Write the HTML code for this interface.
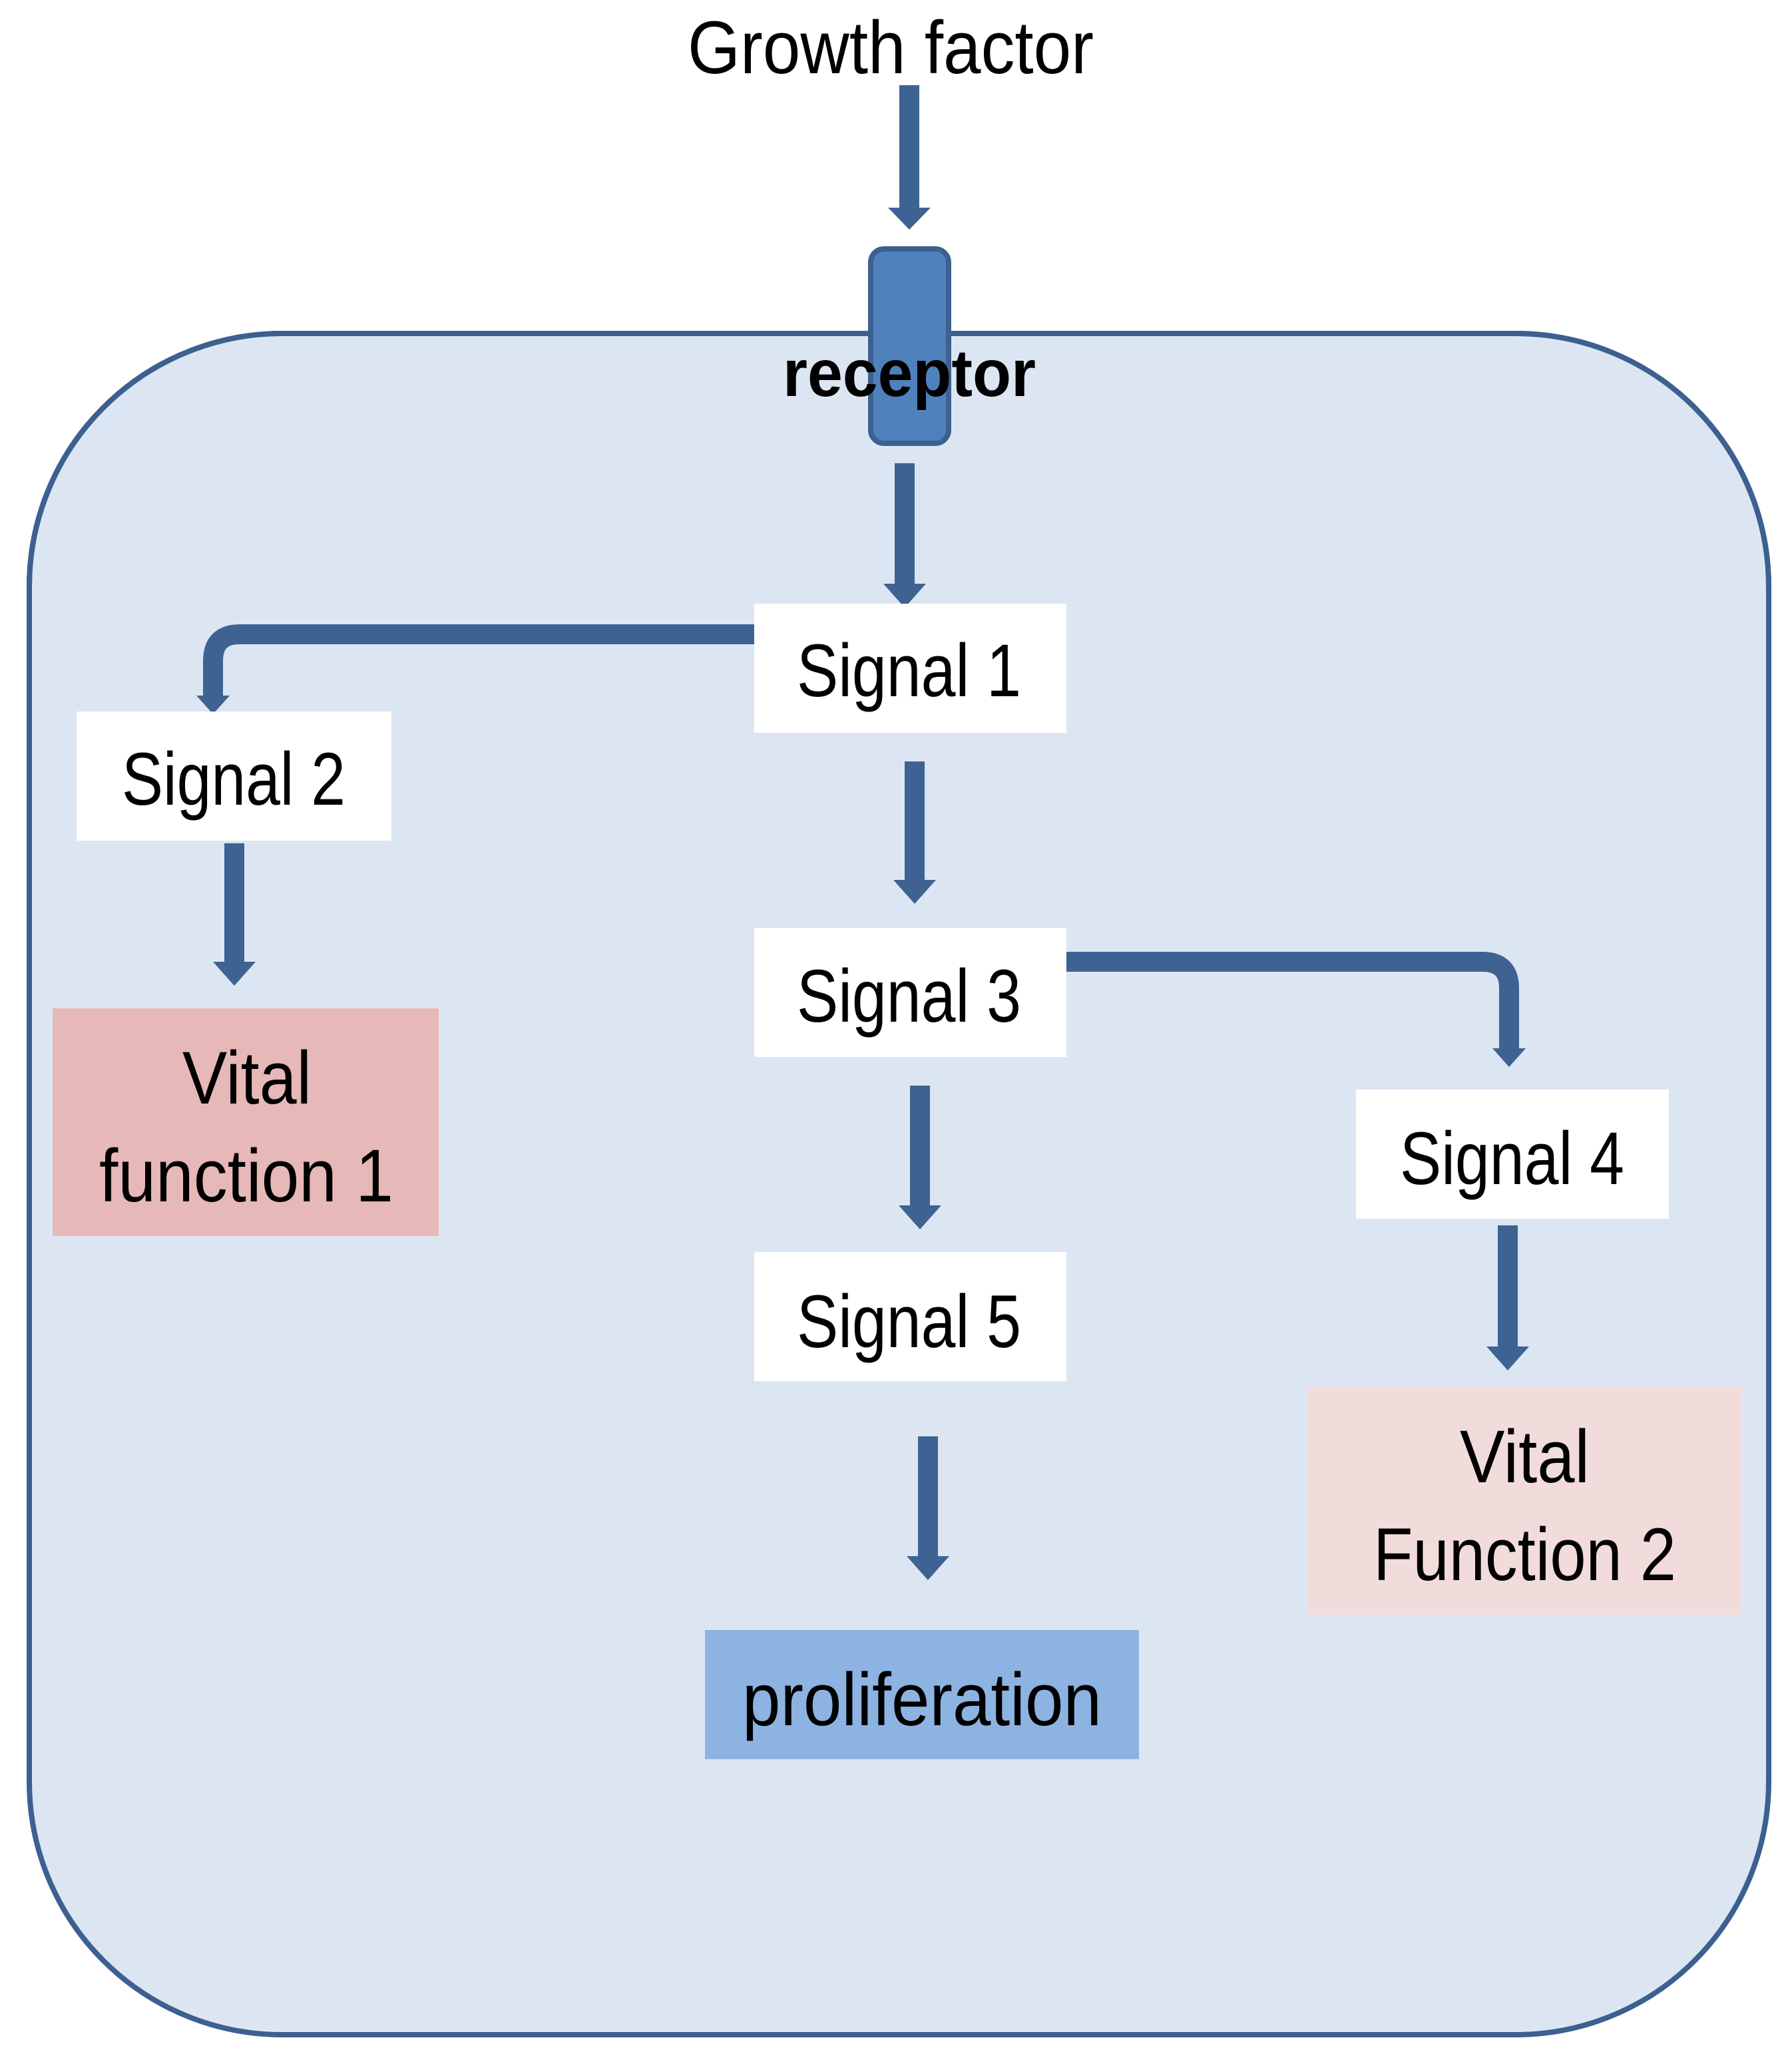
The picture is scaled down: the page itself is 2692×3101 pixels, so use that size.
<!DOCTYPE html>
<html><head><style>body{margin:0;background:#fff}svg{display:block}</style></head><body>
<svg width="2692" height="3101" viewBox="0 0 2692 3101" xmlns="http://www.w3.org/2000/svg" font-family="Liberation Sans, sans-serif">
<rect x="44" y="501" width="2613" height="2556" rx="380" fill="#dce6f2" stroke="#3c6090" stroke-width="8"/>
<rect x="0" y="0" width="2692" height="497" fill="#fff"/>
<path d="M44,881 A380,380 0 0 1 424,501 L2277,501 A380,380 0 0 1 2657,881" fill="none" stroke="#3c6090" stroke-width="8"/>
<g fill="#3e6393">
<rect x="1351" y="128" width="30" height="186"/><polygon points="1334,312 1398,312 1366,345"/>
<rect x="1344" y="696" width="30" height="183"/><polygon points="1327,877 1391,877 1359,913"/>
<rect x="1359" y="1144" width="30" height="180"/><polygon points="1342,1322 1406,1322 1374,1358"/>
<rect x="1367" y="1631" width="30" height="182"/><polygon points="1350,1811 1414,1811 1382,1847"/>
<rect x="1379" y="2158" width="30" height="182"/><polygon points="1362,2338 1426,2338 1394,2374"/>
<rect x="337" y="1267" width="30" height="180"/><polygon points="320,1445 384,1445 352,1481"/>
<rect x="2250" y="1841" width="30" height="184"/><polygon points="2233,2023 2297,2023 2265,2059"/>
<polygon points="295,1045 345,1045 320,1073"/>
<polygon points="2242,1575 2292,1575 2267,1603"/>
</g>
<path d="M1134,953 L360,953 Q320,953 320,993 L320,1050" fill="none" stroke="#3e6393" stroke-width="30" stroke-linecap="round"/>
<path d="M1602,1445 L2227,1445 Q2267,1445 2267,1485 L2267,1580" fill="none" stroke="#3e6393" stroke-width="30" stroke-linecap="round"/>
<rect x="1308" y="374" width="117" height="292" rx="20" fill="#4f81bd" stroke="#3c6090" stroke-width="8"/>
<text x="1033" y="110" font-size="112" textLength="610" lengthAdjust="spacingAndGlyphs">Growth factor</text>
<text x="1176" y="595" font-size="100" font-weight="bold" textLength="380" lengthAdjust="spacingAndGlyphs">receptor</text>
<g font-size="112">
<rect x="1133" y="907" width="469" height="194" fill="#fff"/>
<text x="1197" y="1046" textLength="337" lengthAdjust="spacingAndGlyphs">Signal 1</text>
<rect x="115" y="1069" width="473" height="194" fill="#fff"/>
<text x="183" y="1209" textLength="336" lengthAdjust="spacingAndGlyphs">Signal 2</text>
<rect x="1133" y="1394" width="469" height="194" fill="#fff"/>
<text x="1197" y="1535" textLength="337" lengthAdjust="spacingAndGlyphs">Signal 3</text>
<rect x="2037" y="1637" width="470" height="194" fill="#fff"/>
<text x="2103" y="1779" textLength="337" lengthAdjust="spacingAndGlyphs">Signal 4</text>
<rect x="1133" y="1881" width="469" height="194" fill="#fff"/>
<text x="1197" y="2024" textLength="337" lengthAdjust="spacingAndGlyphs">Signal 5</text>
<rect x="79" y="1515" width="580" height="342" fill="#e6b8b7"/>
<text x="274" y="1658" textLength="194" lengthAdjust="spacingAndGlyphs">Vital</text>
<text x="149" y="1805" textLength="442" lengthAdjust="spacingAndGlyphs">function 1</text>
<rect x="1964" y="2083" width="652" height="343" fill="#f2dcdb"/>
<text x="2193" y="2227" textLength="195" lengthAdjust="spacingAndGlyphs">Vital</text>
<text x="2063" y="2374" textLength="455" lengthAdjust="spacingAndGlyphs">Function 2</text>
<rect x="1059" y="2449" width="652" height="194" fill="#8db3e2"/>
<text x="1115" y="2592" textLength="540" lengthAdjust="spacingAndGlyphs">proliferation</text>
</g>
</svg>
</body></html>
